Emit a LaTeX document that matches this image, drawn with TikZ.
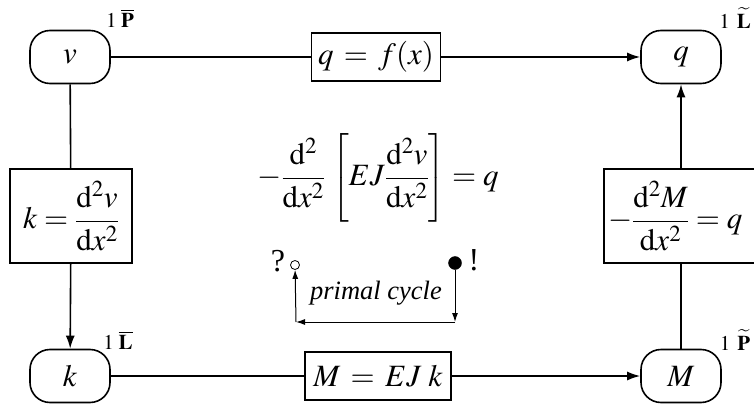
\documentclass[tikz,border=0pt]{standalone}
\usepackage{mathptmx}
\usepackage{exscale}
\usepackage{fontspec}
\setmainfont{Liberation Serif}
\usetikzlibrary{arrows.meta}
\begin{document}
\begin{tikzpicture}[x=1pt,y=-1pt,
  state/.style={draw,line width=1.6pt,rounded corners=20pt,minimum width=80pt,minimum height=53pt,inner sep=0pt,font=\fontsize{31}{36}\selectfont},
  relbox/.style={draw,line width=1.6pt,inner sep=4pt,font=\fontsize{31}{36}\selectfont},
  conn/.style={line width=1.6pt},
  arr/.style={line width=1.6pt,-{Latex[length=13pt,width=9pt]}},
  small/.style={line width=1pt,-{Latex[length=9pt,width=6pt]}},
  lab/.style={inner sep=0pt,font=\fontsize{21}{25}\selectfont},
  punct/.style={inner sep=0pt,font=\fontsize{32}{36}\selectfont},
  big/.style={inner sep=0pt,font=\fontsize{31}{36}\selectfont}]
\useasboundingbox (0,0) rectangle (754,406);
\node[state] (v) at (70,57) {$v$};
\node[state] (q) at (681,57) {$q$};
\node[state] (k) at (70,376) {$k$};
\node[state] (M) at (681,376) {$M$};
\node[relbox,minimum width=129pt,minimum height=48pt] (tb) at (376,57) {$q \,=\, f(x)$};
\node[relbox,minimum width=146pt,minimum height=48pt] (bb) at (378,376) {$M \,=\, EJ\;k$};
\node[relbox,minimum width=122pt,minimum height=94pt] (lb) at (71,216) {$\displaystyle k = \frac{\mathrm{d}^2 v}{\mathrm{d}x^2}$};
\node[relbox,minimum width=154pt,minimum height=94pt,text width=146pt,align=left] (rb) at (681,216) {$\displaystyle -\frac{\mathrm{d}^2 M}{\mathrm{d}x^2} = q$};
\draw[conn] (v) -- (tb);
\draw[arr] (tb) -- (q);
\draw[conn] (v) -- (lb);
\draw[arr] (lb) -- (k);
\draw[conn] (k) -- (bb);
\draw[arr] (bb) -- (M);
\draw[conn] (M) -- (rb);
\draw[arr] (rb) -- (q);
\node[lab] (l1) at (120,18) {$1\;\overline{\mathbf{P}}$};
\node[lab] (l2) at (735,18) {$1\;\,\widetilde{\mathbf{L}}$};
\node[lab] (l3) at (118,340) {$1\;\overline{\mathbf{L}}$};
\node[lab] (l4) at (735,340) {$1\;\,\widetilde{\mathbf{P}}$};
\node[big] (eq) at (378,178) {$\displaystyle -\frac{\mathrm{d}^2}{\mathrm{d}x^2}\,\left[EJ\frac{\mathrm{d}^2 v}{\mathrm{d}x^2}\right] = q$};
\node[draw,circle,line width=0.8pt,minimum size=9pt,inner sep=0pt] (oc) at (295,265) {};
\node[draw,fill,circle,minimum size=13pt,inner sep=0pt] (fc) at (455,263) {};
\node[punct] (qm) at (278,261) {?};
\node[punct] (em) at (474,260) {!};
\coordinate (c1) at (455,322);
\coordinate (c2) at (296,322);
\draw[small] (fc) -- (c1);
\draw[small] (c1) -- (c2);
\draw[small] (c2) -- (oc);
\node[lab,font=\fontsize{26.5}{30}\selectfont\itshape] (pc) at (376,293) {primal cycle};
\end{tikzpicture}
\end{document}
